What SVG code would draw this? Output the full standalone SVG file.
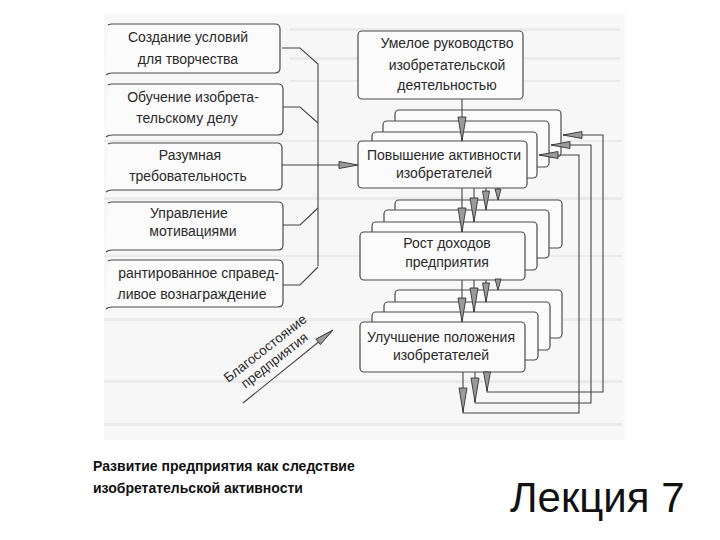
<svg xmlns="http://www.w3.org/2000/svg" xmlns:xlink="http://www.w3.org/1999/xlink" width="720" height="540" viewBox="0 0 720 540">
<defs>
<style>
.bx{fill:#fbfbfb;stroke:#4a4a4a;stroke-width:1.2}
.lb{fill:none;stroke:#4a4a4a;stroke-width:1.2}
.ln{fill:none;stroke:#454545;stroke-width:1.1}
.t{font-family:"Liberation Sans",Arial,sans-serif;font-size:14px;fill:#2a2a2a;text-anchor:middle}
.ah{fill:#9a9a9a;stroke:#333;stroke-width:0.9}
.st{fill:#ebebeb}
.cap{font-family:"Liberation Sans",Arial,sans-serif;font-size:14px;font-weight:bold;fill:#111}
</style>
<path id="ah" class="ah" d="M0,0 L-24,-4 L-24,4 Z"/>
<path id="ahs" class="ah" d="M0,0 L-11,-3 L-11,3 Z"/>
<path id="ahm" class="ah" d="M0,0 L-19,-3.5 L-19,3.5 Z"/>
</defs>
<rect width="720" height="540" fill="#ffffff"/>
<g id="scan">
<rect x="104" y="14" width="521" height="426" fill="#f7f7f7"/>
<rect class="st" x="290" y="28" width="330" height="3"/>
<rect class="st" x="290" y="57" width="330" height="3"/>
<rect class="st" x="290" y="80" width="330" height="2"/>
<rect class="st" x="104" y="140" width="518" height="2"/>
<rect class="st" x="104" y="197" width="518" height="3"/>
<rect class="st" x="104" y="255" width="518" height="2"/>
<rect class="st" x="104" y="318" width="518" height="3"/>
<rect class="st" x="104" y="380" width="518" height="3"/>
<rect class="st" x="104" y="423" width="518" height="3"/>
</g>
<g id="n1"><path class="lb" d="M108,25 Q110,24 112,24 H275 Q280,24 280,29 V68 Q280,73 275,73 H112 Q108,73 106,75" style="fill:#fbfbfb"/><text class="t" x="188" y="42">Создание условий</text><text class="t" x="188" y="64">для творчества</text></g>
<g id="n2"><path class="lb" d="M108,85 Q110,84 112,84 H278 Q283,84 283,89 V130 Q283,135 278,135 H112 Q108,135 106,137" style="fill:#fbfbfb"/><text class="t" x="193" y="102">Обучение изобрета-</text><text class="t" x="187" y="123">тельскому делу</text></g>
<g id="n3"><path class="lb" d="M108,144 Q110,143 112,143 H277 Q282,143 282,148 V185 Q282,190 277,190 H112 Q108,190 106,192" style="fill:#fbfbfb"/><text class="t" x="190" y="160">Разумная</text><text class="t" x="188" y="181">требовательность</text></g>
<g id="n4"><path class="lb" d="M108,203 Q110,202 112,202 H278 Q283,202 283,207 V245 Q283,250 278,250 H112 Q108,250 106,252" style="fill:#fbfbfb"/><text class="t" x="189" y="218">Управление</text><text class="t" x="193" y="236">мотивациями</text></g>
<g id="n5"><path class="lb" d="M108,261 Q110,260 112,260 H278 Q283,260 283,265 V302 Q283,307 278,307 H112 Q108,307 106,309" style="fill:#fbfbfb"/><text class="t" x="279" y="278" style="text-anchor:end">рантированное справед-</text><text class="t" x="192" y="299">ливое вознаграждение</text></g>
<g id="n6"><rect class="bx" x="358" y="31" width="165" height="68" rx="4"/><text class="t" x="447" y="48">Умелое руководство</text><text class="t" x="447" y="70">изобретательской</text><text class="t" x="447" y="90">деятельностью</text></g>
<g id="n7">
<rect class="bx" x="395" y="110" width="166" height="47" rx="4"/>
<rect class="bx" x="383" y="121" width="166" height="46" rx="4"/>
<rect class="bx" x="372" y="132" width="165" height="46" rx="4"/>
<rect class="bx" x="358" y="141" width="169" height="47" rx="4"/>
<text class="t" x="444" y="160">Повышение активности</text><text class="t" x="444" y="178">изобретателей</text></g>
<g id="n8">
<rect class="bx" x="395" y="200" width="167" height="48" rx="4"/>
<rect class="bx" x="384" y="210" width="165" height="48" rx="4"/>
<rect class="bx" x="372" y="222" width="165" height="48" rx="4"/>
<rect class="bx" x="360" y="232" width="165" height="48" rx="4"/>
<text class="t" x="447" y="248">Рост доходов</text><text class="t" x="447" y="267">предприятия</text></g>
<g id="n9">
<rect class="bx" x="395" y="290" width="167" height="48" rx="4"/>
<rect class="bx" x="384" y="302" width="166" height="48" rx="4"/>
<rect class="bx" x="372" y="312" width="166" height="48" rx="4"/>
<rect class="bx" x="360" y="322" width="165" height="50" rx="4"/>
<text class="t" x="441" y="342">Улучшение положения</text><text class="t" x="441" y="360">изобретателей</text></g>
<g id="connectors">
<path class="ln" d="M282,48 H300 L318,64 V266"/>
<path class="ln" d="M283,107 H300 L318,123"/>
<path class="ln" d="M283,225 H300 L318,208"/>
<path class="ln" d="M283,285 H300 L318,267"/>
<path class="ln" d="M282,165 H356"/>
<use xlink:href="#ahm" transform="translate(358,165)"/>
<path class="ln" d="M462,99 V141"/>
<use xlink:href="#ah" transform="translate(462,141) rotate(90)"/>
<path class="ln" d="M462,188 V232 M474,188 V222 M486,188 V210 M498,188 V200"/>
<use xlink:href="#ah" transform="translate(462,232) rotate(90)"/>
<use xlink:href="#ah" transform="translate(474,222) rotate(90)"/>
<use xlink:href="#ahm" transform="translate(486,210) rotate(90)"/>
<use xlink:href="#ahs" transform="translate(498,200) rotate(90)"/>
<path class="ln" d="M462,280 V322 M474,280 V312 M486,280 V302 M498,280 V290"/>
<use xlink:href="#ah" transform="translate(462,322) rotate(90)"/>
<use xlink:href="#ah" transform="translate(474,312) rotate(90)"/>
<use xlink:href="#ahm" transform="translate(486,302) rotate(90)"/>
<use xlink:href="#ahs" transform="translate(498,290) rotate(90)"/>
<path class="ln" d="M463,372 V413 H579 V155 H539"/>
<path class="ln" d="M475,372 V403 H591 V145 H551"/>
<path class="ln" d="M487,372 V392 H603 V135 H563"/>
<use xlink:href="#ah" transform="translate(463,412) rotate(90)"/>
<use xlink:href="#ah" transform="translate(475,402) rotate(90)"/>
<use xlink:href="#ahm" transform="translate(487,391) rotate(90)"/>
<use xlink:href="#ahm" transform="translate(539,155) rotate(180)"/>
<use xlink:href="#ahm" transform="translate(551,145) rotate(180)"/>
<use xlink:href="#ahm" transform="translate(563,135) rotate(180)"/>
<path class="ln" d="M243,403 L331,332"/>
<use xlink:href="#ahm" transform="translate(333,330) rotate(-38.6)"/>
</g>
<g id="welfare" transform="translate(268,352) rotate(-38)">
<text class="t" x="0" y="0" style="font-size:13.5px">Благосостояние</text>
<text class="t" x="0" y="15" style="font-size:13.5px">предприятия</text>
</g>
<g id="caption">
<text class="cap" x="93" y="471">Развитие предприятия как следствие</text>
<text class="cap" x="93" y="493">изобретательской активности</text>
<text x="510" y="512" style="font-family:'Liberation Sans',Arial,sans-serif;font-size:42px;fill:#111">Лекция 7</text>
</g>
</svg>
